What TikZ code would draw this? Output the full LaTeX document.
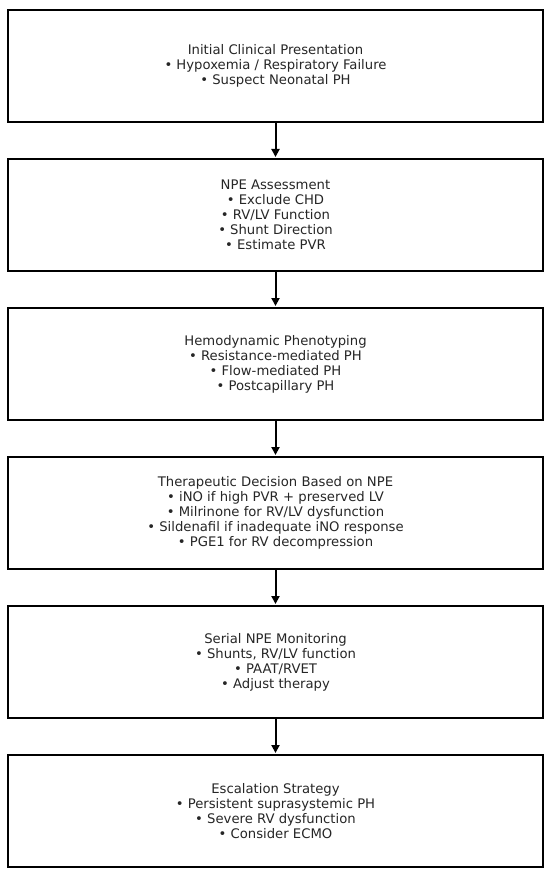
\documentclass[tikz,border=0pt]{standalone}
\usepackage{fontspec}
\setmainfont{DejaVu Sans}
\usetikzlibrary{arrows.meta}
\begin{document}
\begin{tikzpicture}[x=1pt,y=-1pt,
  stagebox/.style={draw=black,line width=2.2pt,minimum width=535pt,minimum height=112pt,
    align=center,font=\fontsize{13.2pt}{15pt}\selectfont,text=black!85,inner sep=0pt,anchor=north},
  flowarrow/.style={draw=black,line width=2pt,-{Triangle[width=8pt,length=8pt]},shorten >=1pt}]
\useasboundingbox (0,0) rectangle (550,874);
\fill[white] (0,0) rectangle (550,874);
\node[stagebox] (b1) at (275.5,9) {Initial Clinical Presentation\\• Hypoxemia / Respiratory Failure\\• Suspect Neonatal PH};
\node[stagebox] (b2) at (275.5,158) {NPE Assessment\\• Exclude CHD\\• RV/LV Function\\• Shunt Direction\\• Estimate PVR};
\node[stagebox] (b3) at (275.5,307) {Hemodynamic Phenotyping\\• Resistance-mediated PH\\• Flow-mediated PH\\• Postcapillary PH};
\node[stagebox] (b4) at (275.5,456) {Therapeutic Decision Based on NPE\\• iNO if high PVR + preserved LV\\• Milrinone for RV/LV dysfunction\\• Sildenafil if inadequate iNO response\\• PGE1 for RV decompression};
\node[stagebox] (b5) at (275.5,605) {Serial NPE Monitoring\\• Shunts, RV/LV function\\• PAAT/RVET\\• Adjust therapy};
\node[stagebox] (b6) at (275.5,754) {Escalation Strategy\\• Persistent suprasystemic PH\\• Severe RV dysfunction\\• Consider ECMO};
\foreach \a/\b in {b1/b2,b2/b3,b3/b4,b4/b5,b5/b6}
  \draw[flowarrow] (\a.south) -- (\b.north);
\end{tikzpicture}
\end{document}
